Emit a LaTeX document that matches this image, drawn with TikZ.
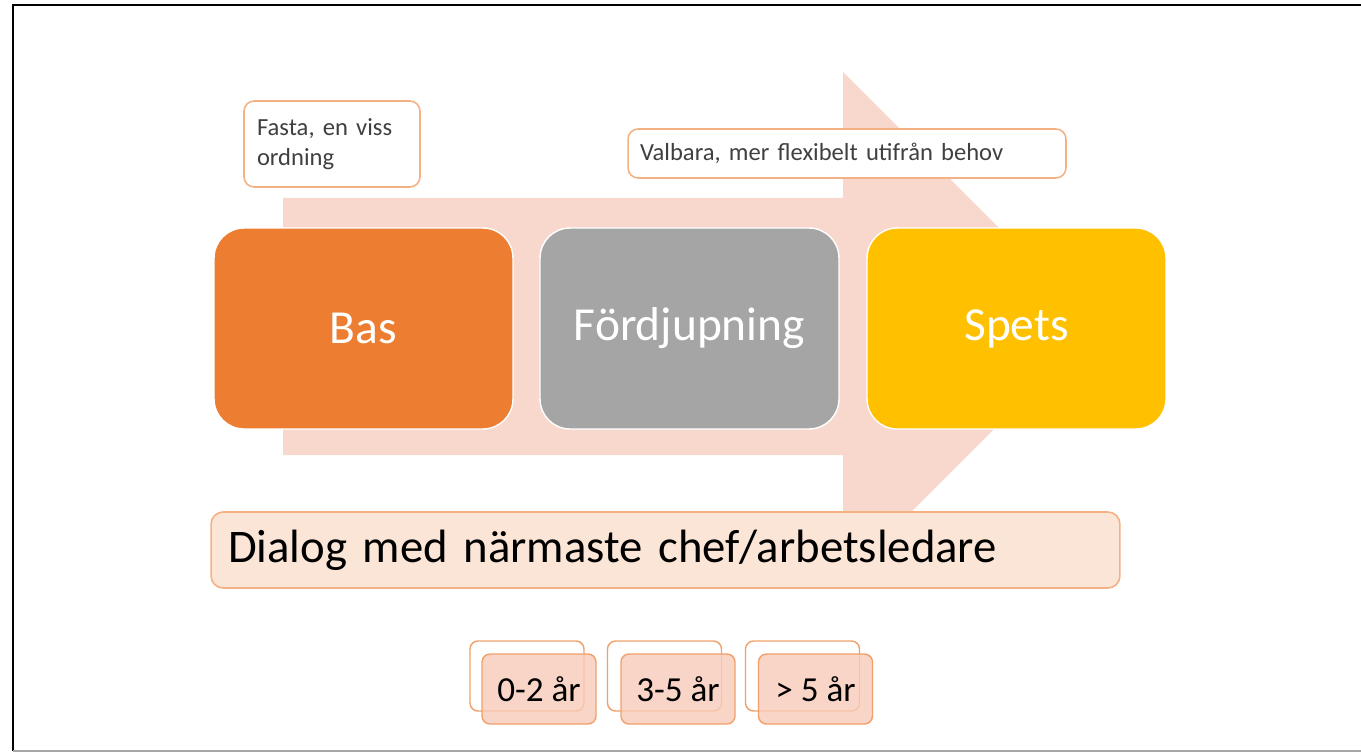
\documentclass[tikz,border=0pt]{standalone}
\usepackage{fontspec}
\setmainfont{Carlito}

\definecolor{basorange}{HTML}{ED7D31}
\definecolor{midgray}{HTML}{A5A5A5}
\definecolor{spetsyellow}{HTML}{FFC000}
\definecolor{arrowpink}{HTML}{F8D7CD}
\definecolor{noteedge}{HTML}{F4B183}
\definecolor{dialogfill}{HTML}{FBE5D6}
\definecolor{yearfill}{HTML}{F8CBB9}
\definecolor{yearedge}{HTML}{F0A06A}
\definecolor{textgray}{HTML}{404040}

\begin{document}
\begin{tikzpicture}[x=0.02cm, y=-0.02cm,
    stage/.style={rectangle, rounded corners=0.6cm, minimum width=5.98cm,
      minimum height=4.02cm, draw=white, line width=0.8pt, text=white,
      font=\fontsize{27}{32}\selectfont},
    note/.style={rectangle, rounded corners=0.2cm, draw=noteedge, fill=white,
      line width=0.9pt, text=textgray, align=left,
      font=\fontsize{14}{17}\selectfont},
    yearback/.style={rectangle, rounded corners=0.16cm, draw=yearedge,
      fill=white, line width=0.8pt, minimum width=2.28cm, minimum height=1.4cm},
    yearfront/.style={yearback, fill=yearfill, fill opacity=0.8,
      text opacity=1, text=black, font=\fontsize{20}{24}\selectfont}]
  \useasboundingbox (0,0) rectangle (1361,753);

  % Frame
  \draw[line width=1.6pt] (1361,5) -- (13,5) -- (13,751);
  \draw[gray!70, line width=0.8pt] (13,751) -- (1361,751);

  % Big background arrow
  \fill[arrowpink] (283,198) -- (843,198) -- (843,72) -- (1097,326)
    -- (843,580) -- (843,455) -- (283,455) -- cycle;

  % Stages
  \node[stage, fill=basorange] (bas) at (363.5,328.5) {Bas};
  \node[stage, fill=midgray] (fordjupning) at (689.5,328.5) {Fördjupning};
  \node[stage, fill=spetsyellow] (spets) at (1016.5,328.5) {Spets};

  % Notes above
  \node[note, text width=3.0cm, inner xsep=0.26cm, minimum height=1.72cm]
    (fasta) at (332,144) {Fasta, en viss\\ordning};
  \node[note, text width=8.28cm, inner xsep=0.24cm, minimum height=0.98cm]
    (valbara) at (847,153.5) {Valbara, mer flexibelt utifrån behov};

  % Dialog bar
  \node[rectangle, rounded corners=0.24cm, draw=noteedge, fill=dialogfill,
    line width=0.9pt, text width=17.5cm, inner xsep=0.34cm,
    minimum height=1.52cm, align=left, font=\fontsize{26.6}{32}\selectfont]
    (dialog) at (665.5,550) {Dialog med närmaste chef/arbetsledare};

  % Years
  \node[yearback] (backa) at (527,676) {};
  \node[yearfront] (yeara) at (539,689) {0-2 år};
  \node[yearback] (backb) at (664.5,676) {};
  \node[yearfront] (yearb) at (678,689) {3-5 år};
  \node[yearback] (backc) at (802.5,676) {};
  \node[yearfront] (yearc) at (815.5,689) {> 5 år};
\end{tikzpicture}
\end{document}
